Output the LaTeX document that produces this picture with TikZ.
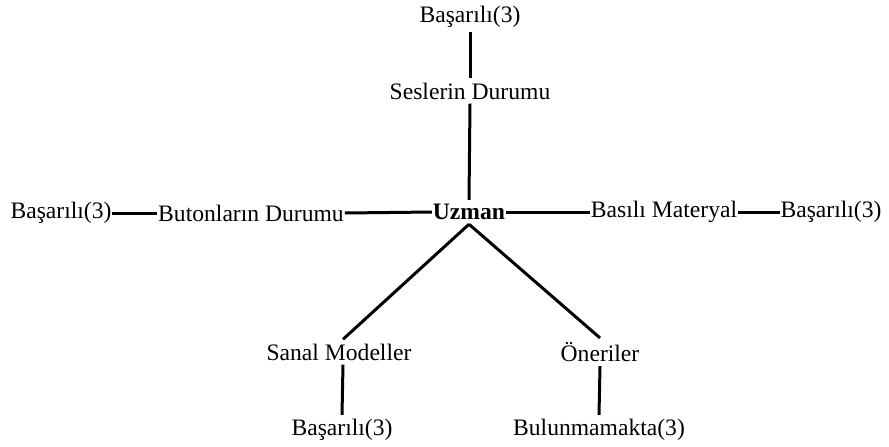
\documentclass[tikz,border=0pt]{standalone}
\usepackage{fontspec}
\setmainfont{Liberation Serif}
\begin{document}
\begin{tikzpicture}[x=0.5pt, y=-0.5pt,
		lbl/.style={black, inner xsep=0.3pt, inner ysep=2pt, font=\fontsize{11.8}{14}\selectfont},
		edge/.style={draw=black, line width=1.5pt, solid}]
		\useasboundingbox (0,0) rectangle (889,446);
		\node[lbl, font=\fontsize{11.8}{14}\selectfont\bfseries] (uzman) at (469,212) {Uzman};
		\node[lbl] (sesB) at (470,17) {Başarılı(3)};
		\node[lbl] (ses) at (470,91) {Seslerin Durumu};
		\node[lbl] (buton) at (251,213) {Butonların Durumu};
		\node[lbl] (butonB) at (61,213) {Başarılı(3)};
		\node[lbl] (basili) at (664,212) {Basılı Materyal};
		\node[lbl] (basiliB) at (831,212) {Başarılı(3)};
		\node[lbl] (sanal) at (339,352) {Sanal Modeller};
		\node[lbl] (sanalB) at (342,430) {Başarılı(3)};
		\node[lbl] (oneri) at (600,352) {Öneriler};
		\node[lbl] (oneriB) at (599,430) {Bulunmamakta(3)};
		\draw[edge] (sesB.south) -- (ses.north);
		\draw[edge] (ses.south) -- (uzman.north);
		\draw[edge] (butonB.east) -- (buton.west);
		\draw[edge] (buton.east) -- (uzman.west);
		\draw[edge] (uzman.east) -- (basili.west);
		\draw[edge] (basili.east) -- (basiliB.west);
		\draw[edge] (uzman.south) -- ([xshift=2pt]sanal.north);
		\draw[edge] (uzman.south) -- (oneri.north);
		\draw[edge] ([xshift=2pt]sanal.south) -- (sanalB.north);
		\draw[edge] (oneri.south) -- (oneriB.north);
	\end{tikzpicture}
\end{document}
